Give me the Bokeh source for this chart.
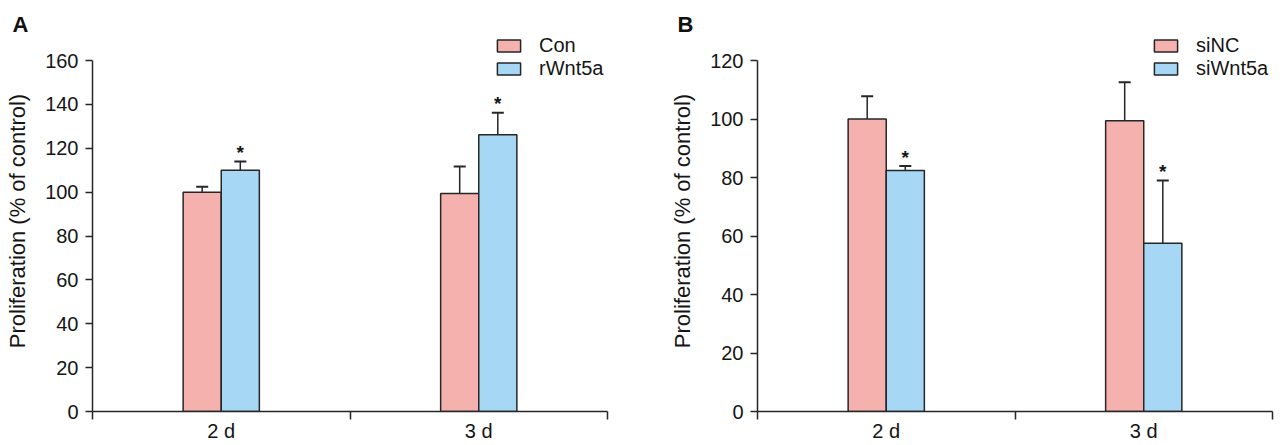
from bokeh.plotting import figure
from bokeh.layouts import row
from bokeh.models import (ColumnDataSource, Range1d, FixedTicker, Whisker, TeeHead,
                          Legend, LegendItem, Title)
from bokeh.core.properties import value
from bokeh.embed import file_html
from bokeh.resources import INLINE

# ---------------- data ----------------
days = ["2 d", "3 d"]

a_series = ["Con", "rWnt5a"]
a_con = [100.0, 99.4]
a_con_err = [2.5, 12.3]
a_rwnt = [110.0, 126.2]
a_rwnt_err = [4.0, 10.0]
a_sig = (["", ""], ["*", "*"])  # (Con marks, rWnt5a marks)
a_yticks = [0, 20, 40, 60, 80, 100, 120, 140, 160]

b_series = ["siNC", "siWnt5a"]
b_sinc = [100.0, 99.4]
b_sinc_err = [7.8, 13.2]
b_siwnt = [82.4, 57.5]
b_siwnt_err = [1.5, 21.5]
b_sig = (["", ""], ["*", "*"])
b_yticks = [0, 20, 40, 60, 80, 100, 120]

PINK = "#F4B1AD"
BLUE = "#A6D7F5"
EDGE = "#262626"
TXT = "#151515"
FONT = "Liberation Sans"
BW = 0.148


def panel(letter, series, vals1, err1, vals2, err2, sig, yticks, ymax, width,
          left_border, right_border, legend_x):
    px_per_unit = 351.0 / ymax
    yend = ymax + 30.0 / px_per_unit
    p = figure(width=width, height=445, output_backend="svg", toolbar_location=None,
               x_range=Range1d(0, len(days)), y_range=Range1d(0, yend),
               min_border_left=left_border, min_border_right=right_border,
               min_border_top=30, min_border_bottom=34)
    p.outline_line_color = None
    p.grid.visible = False
    p.background_fill_color = "white"

    centers = [i + 0.5 for i in range(len(days))]
    groups = [(vals1, err1, sig[0], PINK, -BW / 2, series[0]),
              (vals2, err2, sig[1], BLUE, BW / 2, series[1])]
    items = []
    for vals, errs, marks, color, off, name in groups:
        src = ColumnDataSource(dict(
            x=[c + off for c in centers], top=vals,
            upper=[v + e for v, e in zip(vals, errs)], mark=marks))
        r = p.vbar(x="x", top="top", width=BW, bottom=0, source=src,
                   fill_color=color, line_color=EDGE, line_width=1.5)
        items.append(LegendItem(label=name, renderers=[r]))
        w = Whisker(base="x", lower="top", upper="upper", source=src,
                    dimension="height", line_color=EDGE, line_width=1.5,
                    upper_head=TeeHead(size=12, line_color=EDGE, line_width=2),
                    lower_head=None)
        p.add_layout(w)
        p.text(x="x", y="upper", text="mark", source=src, text_align="center",
               text_baseline="middle", y_offset=-9,
               text_font=value(FONT), text_font_size="19px",
               text_font_style="bold", text_color=TXT)

    # y axis
    ya = p.yaxis[0]
    ya.bounds = (0, ymax)
    ya.ticker = FixedTicker(ticks=yticks, minor_ticks=[])
    ya.axis_label = "Proliferation (% of control)"
    ya.axis_label_text_font = FONT
    ya.axis_label_text_font_size = "22px"
    ya.axis_label_text_font_style = "normal"
    ya.axis_label_text_color = TXT
    ya.axis_label_standoff = 12
    ya.major_label_text_font = FONT
    ya.major_label_text_font_size = "20px"
    ya.major_label_text_color = TXT
    ya.major_label_standoff = 7
    ya.major_tick_out = 7
    ya.major_tick_in = 0
    ya.axis_line_width = 1.5
    ya.axis_line_color = EDGE
    ya.major_tick_line_width = 1.5
    ya.major_tick_line_color = EDGE

    # x axis
    xa = p.xaxis[0]
    xa.ticker = FixedTicker(ticks=centers, minor_ticks=list(range(len(days) + 1)))
    xa.major_label_overrides = {c: d for c, d in zip(centers, days)}
    xa.major_label_text_font = FONT
    xa.major_label_text_font_size = "20px"
    xa.major_label_text_color = TXT
    xa.major_label_standoff = 0
    xa.major_tick_out = 0
    xa.major_tick_in = 0
    xa.minor_tick_out = 8
    xa.minor_tick_in = 0
    xa.minor_tick_line_width = 1.5
    xa.minor_tick_line_color = EDGE
    xa.axis_line_width = 1.5
    xa.axis_line_color = EDGE

    leg = Legend(items=items, location=(legend_x, 331), glyph_width=29,
                 glyph_height=15, label_text_font=FONT, label_text_font_size="20px",
                 label_text_color=TXT,
                 label_standoff=16, spacing=0, padding=0, margin=0,
                 border_line_color=None, background_fill_alpha=0,
                 label_height=20)
    p.add_layout(leg)

    t = Title(text=letter, align="left", offset=-80, standoff=-12,
              vertical_align="bottom", text_font=FONT, text_font_size="22px",
              text_font_style="bold", text_color="#111111")
    p.add_layout(t, "above")
    return p


pa = panel("A", a_series, a_con, a_con_err, a_rwnt, a_rwnt_err, a_sig, a_yticks, 160,
           640, 92, 33, 402)
pb = panel("B", b_series, b_sinc, b_sinc_err, b_siwnt, b_siwnt_err, b_sig, b_yticks, 120,
           642, 117, 10, 394)

layout = row(pa, pb)
open("out.html", "w").write(file_html(layout, INLINE))
